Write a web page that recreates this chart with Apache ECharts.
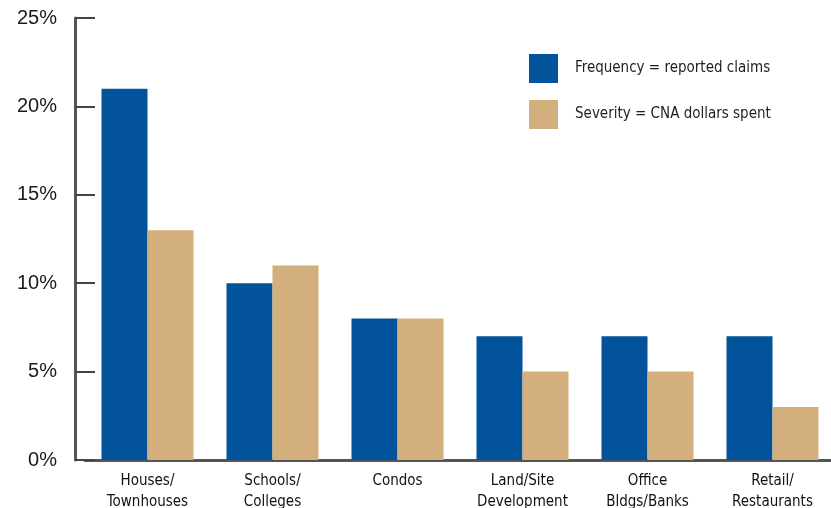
<!DOCTYPE html>
<html><head><meta charset="utf-8">
<script src="https://cdn.jsdelivr.net/npm/echarts@6/dist/echarts.min.js"></script>
<style>html,body{margin:0;padding:0;background:#fff}#c{width:831px;height:508px}</style>
</head><body><div id="c"></div>
<script>
const categories = ['Houses/\nTownhouses', 'Schools/\nColleges', 'Condos', 'Land/Site\nDevelopment', 'Office\nBldgs/Banks', 'Retail/\nRestaurants'];
const frequency = [21, 10, 8, 7, 7, 7];
const severity = [13, 11, 8, 5, 5, 3];
const seriesNames = ['Frequency = reported claims', 'Severity = CNA dollars spent'];
const condensed = "'DejaVu Sans Condensed', 'Liberation Sans Narrow', 'Liberation Sans', sans-serif";

const chart = echarts.init(document.getElementById('c'));
chart.setOption({
  animation: false,
  backgroundColor: '#fff',
  grid: { left: 85, right: -4, top: 18, bottom: 48, containLabel: false, outerBoundsMode: 'none' },
  legend: {
    orient: 'vertical', left: 524, top: 49, itemWidth: 29, itemHeight: 29, itemGap: 17,
    icon: 'rect',
    textStyle: { fontFamily: condensed, fontSize: 15, color: '#1e1e1e', padding: [0,0,0,12] },
    data: seriesNames
  },
  xAxis: {
    type: 'category', data: categories,
    axisLine: { lineStyle: { color: '#555', width: 3 } },
    axisTick: { show: false },
    axisLabel: { fontFamily: condensed, fontSize: 15, color: '#111', lineHeight: 21, margin: 11, interval: 0 }
  },
  yAxis: {
    type: 'value', min: 0, max: 25, interval: 5, offset: 10,
    axisLine: { show: true, lineStyle: { color: '#555', width: 3 } },
    axisTick: { show: true, inside: true, length: 20, lineStyle: { color: '#444', width: 2 } },
    splitLine: { show: false },
    axisLabel: { formatter: '{value}%', fontFamily: 'Liberation Sans', fontSize: 20, color: '#1a1a1a', margin: 18 }
  },
  series: [
    { name: seriesNames[0], type: 'bar', data: frequency, barWidth: 46, barGap: '0%', itemStyle: { color: '#02539B' } },
    { name: seriesNames[1], type: 'bar', data: severity, barWidth: 46, itemStyle: { color: '#D3AF7D' } }
  ]
});
</script></body></html>
